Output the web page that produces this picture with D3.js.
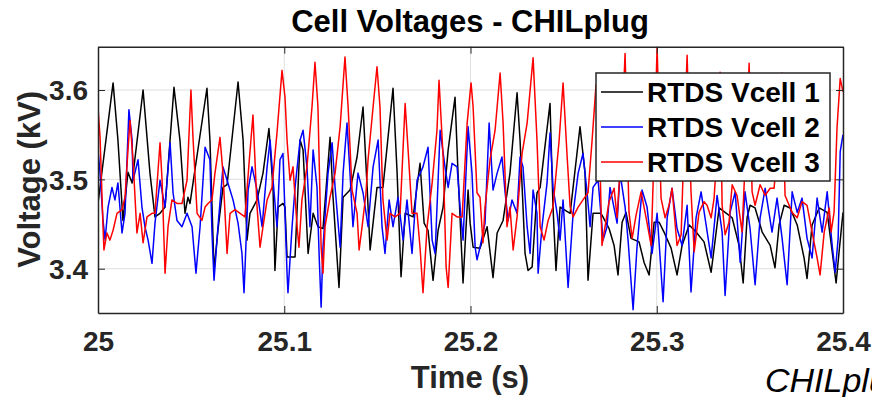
<!DOCTYPE html>
<html lang="en">
<head>
  <meta charset="utf-8">
  <title>Cell Voltages - CHILplug</title>
  <script src="https://d3js.org/d3.v7.min.js"></script>
  <style>
    body { margin: 0; background: #fff; }
    svg { display: block; font-family: "Liberation Sans", Arial, sans-serif; }
    .tick-label { font-size: 28px; font-weight: bold; fill: #262626; }
    .axis-title { font-size: 31px; font-weight: bold; fill: #262626; }
    .grid line { stroke: #dfdfdf; stroke-width: 1; }
    .series { fill: none; stroke-width: 1.5; stroke-linejoin: round; }
  </style>
</head>
<body>
<svg id="chart" width="872" height="397"></svg>
<script>
  // series 1 (black)
  const time1 = [25.0000,25.0081,25.0107,25.0134,25.0161,25.0183,25.0242,25.0279,25.0306,25.0333,25.0360,25.0408,25.0440,25.0467,25.0483,25.0494,25.0585,25.0601,25.0623,25.0644,25.0671,25.0693,25.0752,25.0779,25.0800,25.0816,25.0854,25.0886,25.0918,25.0940,25.0950,25.0967,25.0993,25.1004,25.1015,25.1058,25.1085,25.1101,25.1128,25.1155,25.1181,25.1208,25.1246,25.1262,25.1294,25.1316,25.1353,25.1391,25.1423,25.1445,25.1461,25.1498,25.1530,25.1584,25.1606,25.1627,25.1649,25.1692,25.1729,25.1751,25.1772,25.1799,25.1826,25.1853,25.1880,25.1917,25.1933,25.1960,25.1987,25.1998,25.2014,25.2051,25.2089,25.2121,25.2143,25.2175,25.2212,25.2250,25.2266,25.2293,25.2309,25.2331,25.2357,25.2374,25.2427,25.2443,25.2459,25.2481,25.2535,25.2588,25.2615,25.2631,25.2658,25.2696,25.2706,25.2744,25.2771,25.2792,25.2814,25.2835,25.2862,25.2905,25.2932,25.2959,25.2986,25.3013,25.3039,25.3077,25.3109,25.3136,25.3174,25.3211,25.3254,25.3292,25.3335,25.3367,25.3405,25.3442,25.3464,25.3485,25.3501,25.3528,25.3566,25.3609,25.3635,25.3657,25.3684,25.3716,25.3754,25.3791,25.3807,25.3834,25.3872,25.3915,25.3942,25.3963,25.3979,25.4000];
  const vcell1 = [3.473,3.608,3.544,3.454,3.508,3.496,3.600,3.507,3.458,3.462,3.469,3.603,3.544,3.462,3.480,3.473,3.602,3.544,3.398,3.443,3.491,3.494,3.609,3.544,3.432,3.462,3.477,3.507,3.557,3.488,3.398,3.469,3.473,3.469,3.413,3.413,3.544,3.533,3.417,3.462,3.447,3.445,3.547,3.480,3.379,3.480,3.488,3.525,3.581,3.491,3.421,3.491,3.491,3.602,3.507,3.391,3.462,3.458,3.518,3.451,3.443,3.387,3.443,3.469,3.533,3.592,3.507,3.384,3.488,3.451,3.424,3.423,3.447,3.390,3.440,3.454,3.507,3.597,3.544,3.417,3.398,3.402,3.485,3.491,3.585,3.469,3.398,3.469,3.462,3.559,3.507,3.387,3.462,3.462,3.460,3.445,3.426,3.393,3.452,3.463,3.434,3.430,3.407,3.393,3.452,3.452,3.441,3.423,3.393,3.426,3.449,3.441,3.430,3.396,3.468,3.463,3.457,3.426,3.384,3.457,3.471,3.468,3.441,3.426,3.401,3.449,3.471,3.468,3.449,3.412,3.389,3.449,3.468,3.463,3.419,3.384,3.419,3.463];

  // series 2 (blue)
  const time2 = [25.0000,25.0011,25.0027,25.0038,25.0054,25.0075,25.0091,25.0107,25.0129,25.0145,25.0166,25.0183,25.0188,25.0215,25.0236,25.0252,25.0269,25.0290,25.0306,25.0333,25.0360,25.0387,25.0403,25.0424,25.0451,25.0478,25.0505,25.0526,25.0548,25.0575,25.0601,25.0612,25.0623,25.0644,25.0671,25.0693,25.0725,25.0752,25.0773,25.0784,25.0806,25.0827,25.0854,25.0881,25.0908,25.0924,25.0940,25.0961,25.0977,25.0993,25.1015,25.1020,25.1042,25.1058,25.1085,25.1101,25.1122,25.1138,25.1155,25.1176,25.1187,25.1198,25.1208,25.1235,25.1257,25.1273,25.1300,25.1316,25.1337,25.1353,25.1369,25.1396,25.1423,25.1450,25.1477,25.1504,25.1525,25.1541,25.1563,25.1584,25.1611,25.1638,25.1659,25.1686,25.1713,25.1745,25.1772,25.1794,25.1810,25.1837,25.1863,25.1880,25.1901,25.1928,25.1944,25.1960,25.1987,25.2008,25.2025,25.2035,25.2051,25.2078,25.2100,25.2121,25.2143,25.2169,25.2186,25.2202,25.2223,25.2250,25.2266,25.2282,25.2304,25.2320,25.2336,25.2357,25.2363,25.2384,25.2411,25.2427,25.2443,25.2465,25.2481,25.2497,25.2524,25.2551,25.2578,25.2604,25.2626,25.2642,25.2658,25.2685,25.2712,25.2733,25.2749,25.2787,25.2803,25.2830,25.2846,25.2873,25.2894,25.2921,25.2948,25.2975,25.3002,25.3034,25.3056,25.3082,25.3109,25.3136,25.3163,25.3184,25.3211,25.3238,25.3265,25.3292,25.3324,25.3351,25.3367,25.3394,25.3421,25.3448,25.3474,25.3501,25.3528,25.3555,25.3582,25.3619,25.3646,25.3673,25.3700,25.3727,25.3754,25.3780,25.3807,25.3834,25.3861,25.3888,25.3915,25.3942,25.3958,25.3974,25.3985,25.4000];
  const vcell2 = [3.533,3.507,3.454,3.432,3.469,3.491,3.477,3.496,3.440,3.462,3.578,3.544,3.499,3.522,3.469,3.447,3.432,3.406,3.451,3.499,3.469,3.541,3.485,3.454,3.447,3.462,3.447,3.395,3.447,3.536,3.522,3.440,3.387,3.447,3.514,3.499,3.477,3.451,3.417,3.373,3.488,3.514,3.488,3.447,3.514,3.544,3.499,3.447,3.522,3.529,3.395,3.373,3.447,3.491,3.544,3.555,3.514,3.447,3.533,3.491,3.417,3.357,3.424,3.507,3.541,3.491,3.424,3.507,3.563,3.507,3.447,3.507,3.485,3.447,3.514,3.544,3.447,3.417,3.477,3.447,3.480,3.432,3.477,3.417,3.499,3.514,3.536,3.432,3.417,3.555,3.514,3.491,3.518,3.514,3.469,3.432,3.559,3.507,3.424,3.410,3.424,3.451,3.563,3.488,3.507,3.525,3.485,3.454,3.477,3.462,3.525,3.514,3.447,3.417,3.488,3.462,3.395,3.447,3.496,3.552,3.491,3.462,3.432,3.477,3.379,3.462,3.507,3.529,3.485,3.447,3.491,3.499,3.432,3.447,3.491,3.451,3.507,3.469,3.432,3.354,3.424,3.488,3.469,3.417,3.462,3.363,3.457,3.490,3.445,3.426,3.471,3.374,3.457,3.486,3.449,3.412,3.482,3.441,3.370,3.463,3.486,3.407,3.486,3.445,3.382,3.457,3.490,3.441,3.479,3.434,3.382,3.486,3.463,3.479,3.434,3.412,3.479,3.441,3.486,3.426,3.396,3.434,3.531,3.550];

  // series 3 (red)
  const time3 = [25.0000,25.0011,25.0027,25.0032,25.0048,25.0064,25.0081,25.0102,25.0129,25.0145,25.0161,25.0172,25.0188,25.0209,25.0226,25.0242,25.0263,25.0290,25.0306,25.0333,25.0344,25.0360,25.0376,25.0397,25.0424,25.0451,25.0478,25.0499,25.0510,25.0532,25.0558,25.0575,25.0591,25.0612,25.0628,25.0655,25.0671,25.0693,25.0709,25.0736,25.0763,25.0789,25.0811,25.0832,25.0854,25.0870,25.0886,25.0908,25.0934,25.0961,25.0988,25.1004,25.1015,25.1031,25.1047,25.1069,25.1079,25.1095,25.1122,25.1149,25.1165,25.1181,25.1198,25.1208,25.1219,25.1246,25.1273,25.1300,25.1326,25.1343,25.1364,25.1391,25.1402,25.1418,25.1439,25.1450,25.1477,25.1498,25.1514,25.1530,25.1552,25.1568,25.1595,25.1622,25.1649,25.1665,25.1686,25.1713,25.1729,25.1745,25.1767,25.1794,25.1820,25.1831,25.1853,25.1869,25.1880,25.1901,25.1928,25.1955,25.1982,25.2003,25.2014,25.2035,25.2051,25.2067,25.2078,25.2105,25.2132,25.2159,25.2175,25.2196,25.2212,25.2229,25.2250,25.2277,25.2304,25.2336,25.2357,25.2374,25.2395,25.2417,25.2443,25.2476,25.2497,25.2519,25.2535,25.2551,25.2578,25.2604,25.2631,25.2653,25.2674,25.2696,25.2706,25.2728,25.2744,25.2771,25.2787,25.2809,25.2830,25.2851,25.2868,25.2889,25.2916,25.2943,25.2970,25.2986,25.3002,25.3023,25.3045,25.3066,25.3082,25.3109,25.3131,25.3147,25.3163,25.3184,25.3201,25.3227,25.3254,25.3270,25.3292,25.3308,25.3324,25.3340,25.3351,25.3367,25.3388,25.3405,25.3431,25.3458,25.3480,25.3496,25.3512,25.3528,25.3555,25.3582,25.3609,25.3630,25.3652,25.3673,25.3689,25.3727,25.3754,25.3780,25.3807,25.3834,25.3861,25.3877,25.3899,25.3915,25.3926,25.3936,25.3952,25.3968,25.3985,25.4000];
  const vcell3 = [3.580,3.547,3.447,3.421,3.440,3.432,3.443,3.462,3.466,3.480,3.533,3.566,3.522,3.440,3.462,3.429,3.458,3.462,3.462,3.541,3.499,3.395,3.447,3.477,3.473,3.473,3.499,3.600,3.547,3.462,3.454,3.469,3.473,3.477,3.507,3.547,3.507,3.417,3.462,3.466,3.462,3.458,3.518,3.572,3.469,3.424,3.447,3.477,3.491,3.552,3.622,3.592,3.544,3.499,3.514,3.447,3.424,3.477,3.514,3.581,3.631,3.581,3.424,3.395,3.447,3.480,3.507,3.559,3.637,3.581,3.488,3.462,3.421,3.447,3.485,3.522,3.581,3.626,3.581,3.477,3.432,3.462,3.458,3.462,3.585,3.533,3.462,3.462,3.424,3.373,3.447,3.496,3.555,3.611,3.525,3.402,3.379,3.462,3.458,3.458,3.563,3.608,3.581,3.485,3.480,3.429,3.469,3.522,3.555,3.619,3.563,3.447,3.469,3.421,3.458,3.529,3.563,3.636,3.544,3.447,3.432,3.454,3.469,3.544,3.608,3.525,3.469,3.458,3.469,3.477,3.485,3.544,3.606,3.510,3.426,3.454,3.475,3.490,3.457,3.533,3.641,3.463,3.434,3.460,3.486,3.457,3.426,3.533,3.648,3.479,3.457,3.471,3.490,3.426,3.438,3.544,3.639,3.486,3.419,3.463,3.475,3.471,3.457,3.479,3.533,3.620,3.471,3.438,3.452,3.494,3.482,3.441,3.544,3.630,3.486,3.471,3.494,3.482,3.490,3.490,3.544,3.619,3.482,3.463,3.457,3.475,3.471,3.441,3.412,3.393,3.441,3.457,3.468,3.441,3.463,3.558,3.613,3.598];

  const seriesNames = ["RTDS Vcell 1", "RTDS Vcell 2", "RTDS Vcell 3"];
  const seriesColors = ["#000000", "#0000ff", "#ff0000"];
  const xTicks = [25, 25.1, 25.2, 25.3, 25.4];
  const yTicks = [3.4, 3.5, 3.6];

  const svg = d3.select("#chart");
  const plotLeft = 98, plotRight = 843, plotTop = 46.7, plotBottom = 313;

  const x = d3.scaleLinear().domain([25, 25.4]).range([plotLeft, plotRight]);
  const y = d3.scaleLinear().domain([3.3504, 3.6485]).range([plotBottom, plotTop]);

  svg.append("defs").append("clipPath").attr("id", "plotclip")
    .append("rect").attr("x", plotLeft).attr("y", plotTop)
    .attr("width", plotRight - plotLeft).attr("height", plotBottom - plotTop);

  // grid
  const grid = svg.append("g").attr("class", "grid");
  grid.selectAll(".gx").data(xTicks.slice(1, -1)).enter().append("line")
    .attr("x1", d => x(d)).attr("x2", d => x(d)).attr("y1", plotTop).attr("y2", plotBottom);
  grid.selectAll(".gy").data(yTicks).enter().append("line")
    .attr("x1", plotLeft).attr("x2", plotRight).attr("y1", d => y(d)).attr("y2", d => y(d));

  // lines
  const data = [
    time1.map((t, i) => [t, vcell1[i]]),
    time2.map((t, i) => [t, vcell2[i]]),
    time3.map((t, i) => [t, vcell3[i]])
  ];
  const line = d3.line().x(d => x(d[0])).y(d => y(d[1]));
  const plot = svg.append("g").attr("clip-path", "url(#plotclip)");
  data.forEach((d, i) => {
    plot.append("path").datum(d).attr("class", "series")
      .attr("stroke", seriesColors[i]).attr("d", line);
  });

  // axes, MATLAB style ticks pointing inward
  const axColor = "#262626";
  svg.append("g").attr("transform", "translate(0," + plotBottom + ")")
    .call(d3.axisBottom(x).tickValues(xTicks).tickSizeInner(-7).tickSizeOuter(0).tickFormat(d3.format("~g")))
    .call(g => g.select(".domain").attr("stroke", axColor).attr("stroke-width", 1.5))
    .call(g => g.selectAll(".tick line").attr("stroke", axColor))
    .call(g => g.selectAll(".tick text").attr("class", "tick-label").attr("y", 38).attr("dy", 0));
  svg.append("g").attr("transform", "translate(0," + plotTop + ")")
    .call(d3.axisTop(x).tickValues(xTicks).tickSizeInner(-7).tickSizeOuter(0).tickFormat(""))
    .call(g => g.select(".domain").attr("stroke", axColor).attr("stroke-width", 1.5))
    .call(g => g.selectAll(".tick line").attr("stroke", axColor));
  svg.append("g").attr("transform", "translate(" + plotLeft + ",0)")
    .call(d3.axisLeft(y).tickValues(yTicks).tickSizeInner(-7).tickSizeOuter(0).tickFormat(d3.format(".1f")))
    .call(g => g.select(".domain").attr("stroke", axColor).attr("stroke-width", 1.5))
    .call(g => g.selectAll(".tick line").attr("stroke", axColor))
    .call(g => g.selectAll(".tick text").attr("class", "tick-label").attr("x", -10).attr("dy", "0.35em"));
  svg.append("g").attr("transform", "translate(" + plotRight + ",0)")
    .call(d3.axisRight(y).tickValues(yTicks).tickSizeInner(-7).tickSizeOuter(0).tickFormat(""))
    .call(g => g.select(".domain").attr("stroke", axColor).attr("stroke-width", 1.5))
    .call(g => g.selectAll(".tick line").attr("stroke", axColor));

  // titles
  svg.append("text").attr("class", "axis-title").attr("x", 470).attr("y", 32)
    .attr("text-anchor", "middle").style("fill", "#000").text("Cell Voltages - CHILplug");
  svg.append("text").attr("class", "axis-title").attr("x", 470).attr("y", 388)
    .attr("text-anchor", "middle").text("Time (s)");
  svg.append("text").attr("class", "axis-title")
    .attr("transform", "translate(40," + y(3.5) + ") rotate(-90)")
    .attr("text-anchor", "middle").text("Voltage (kV)");
  // caption fragment running off the right edge, as in the source image
  svg.append("text").attr("x", 765).attr("y", 392)
    .style("font-size", "34px").style("font-style", "italic").attr("fill", "#000")
    .text("CHILplug");

  // legend
  const lg = svg.append("g").attr("transform", "translate(596,73)");
  lg.append("rect").attr("width", 234).attr("height", 108)
    .attr("fill", "#fff").attr("stroke", axColor).attr("stroke-width", 1.5);
  seriesNames.forEach((name, i) => {
    const cy = 19 + i * 35;
    lg.append("line").attr("x1", 5).attr("x2", 47).attr("y1", cy).attr("y2", cy)
      .attr("stroke", seriesColors[i]).attr("stroke-width", 1.3);
    lg.append("text").attr("x", 51).attr("y", cy).attr("dy", "0.35em")
      .style("font-size", "28px").style("font-weight", "bold").attr("fill", "#000")
      .text(name);
  });
</script>
</body>
</html>
